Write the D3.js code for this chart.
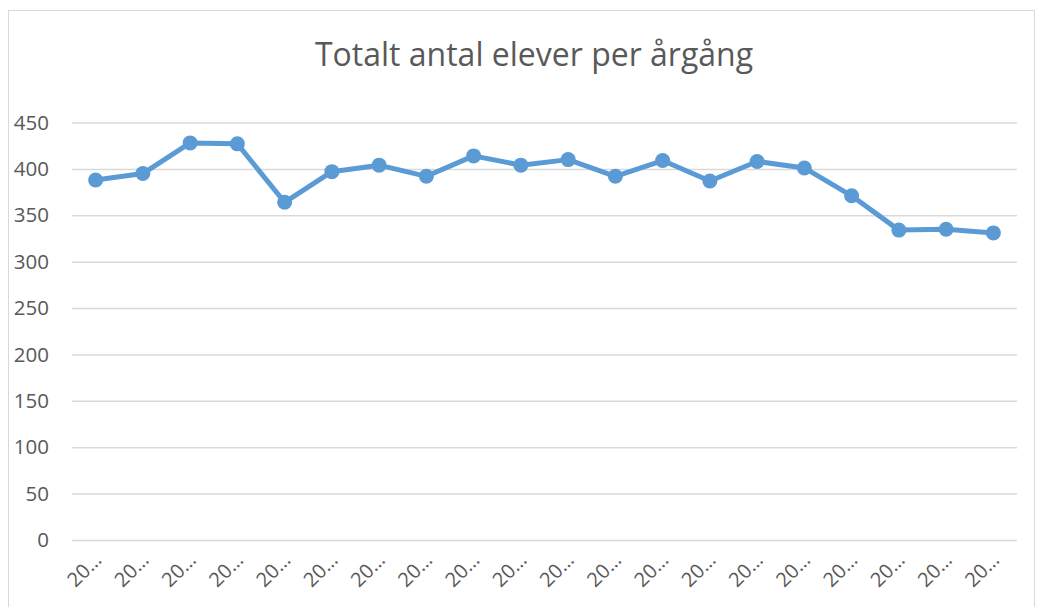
<!DOCTYPE html>
<html>
<head>
<meta charset="utf-8">
<script src="https://cdn.jsdelivr.net/npm/d3@7"></script>
<style>
  body { margin: 0; background: #fff; }
  svg text { font-family: "Open Sans", "Noto Sans", sans-serif; fill: #595959; }
</style>
</head>
<body>
<svg id="chart" width="1046" height="607"></svg>
<script>
// school years (labels are truncated to "20…" in the chart)
const years = ["2000", "2001", "2002", "2003", "2004", "2005", "2006", "2007", "2008", "2009",
    "2010", "2011", "2012", "2013", "2014", "2015", "2016", "2017", "2018", "2019"];
const students = [388, 395, 428, 427, 364, 397, 404, 392, 414, 404,
    410, 392, 409, 387, 408, 401, 371, 334, 335, 331];
const yTicks = [0, 50, 100, 150, 200, 250, 300, 350, 400, 450];
const title = "Totalt antal elever per årgång";

const svg = d3.select("#chart");
const margin = { top: 122.5, right: 29, bottom: 67, left: 72 };
const width = 1046 - margin.left - margin.right,
    height = 607 - margin.top - margin.bottom;

// chart frame
svg.append("rect")
    .attr("x", 8.5).attr("y", 10.5)
    .attr("width", 1026).attr("height", 620)
    .attr("fill", "none")
    .attr("stroke", "#d9d9d9");

svg.append("text")
    .attr("x", 534)
    .attr("y", 66)
    .attr("text-anchor", "middle")
    .style("font-size", "32px")
    .text(title);

const g = svg.append("g")
    .attr("transform", `translate(${margin.left},${margin.top})`);

const x = d3.scaleBand().domain(years).range([0, width]);
const y = d3.scaleLinear().domain([0, 450]).range([height, 0]);

// gridlines + y labels
g.append("g")
    .call(d3.axisLeft(y).tickValues(yTicks).tickSize(-width).tickPadding(23))
    .call(a => a.select(".domain").remove())
    .call(a => a.selectAll("line").attr("stroke", "#d9d9d9").attr("stroke-width", 1.5))
    .call(a => a.selectAll("text").style("font-size", "20.5px").attr("fill", "#595959"));

// x labels
g.append("g")
    .attr("transform", `translate(0,${height})`)
    .call(d3.axisBottom(x).tickSize(0).tickFormat(d => d.slice(0, 2) + "…"))
    .call(a => a.select(".domain").remove())
    .selectAll("text")
    .style("font-size", "20px")
    .attr("fill", "#595959")
    .attr("text-anchor", "end")
    .attr("dy", "0")
    .attr("transform", "translate(5,19) rotate(-45)");

const line = d3.line()
    .x((d, i) => x(years[i]) + x.bandwidth() / 2)
    .y(d => y(d));

g.append("path")
    .datum(students)
    .attr("fill", "none")
    .attr("stroke", "#5b9bd5")
    .attr("stroke-width", 5)
    .attr("stroke-linejoin", "round")
    .attr("d", line);

g.selectAll("circle")
    .data(students)
    .enter().append("circle")
    .attr("cx", (d, i) => x(years[i]) + x.bandwidth() / 2)
    .attr("cy", d => y(d))
    .attr("r", 7.5)
    .attr("fill", "#5b9bd5");
</script>
</body>
</html>
